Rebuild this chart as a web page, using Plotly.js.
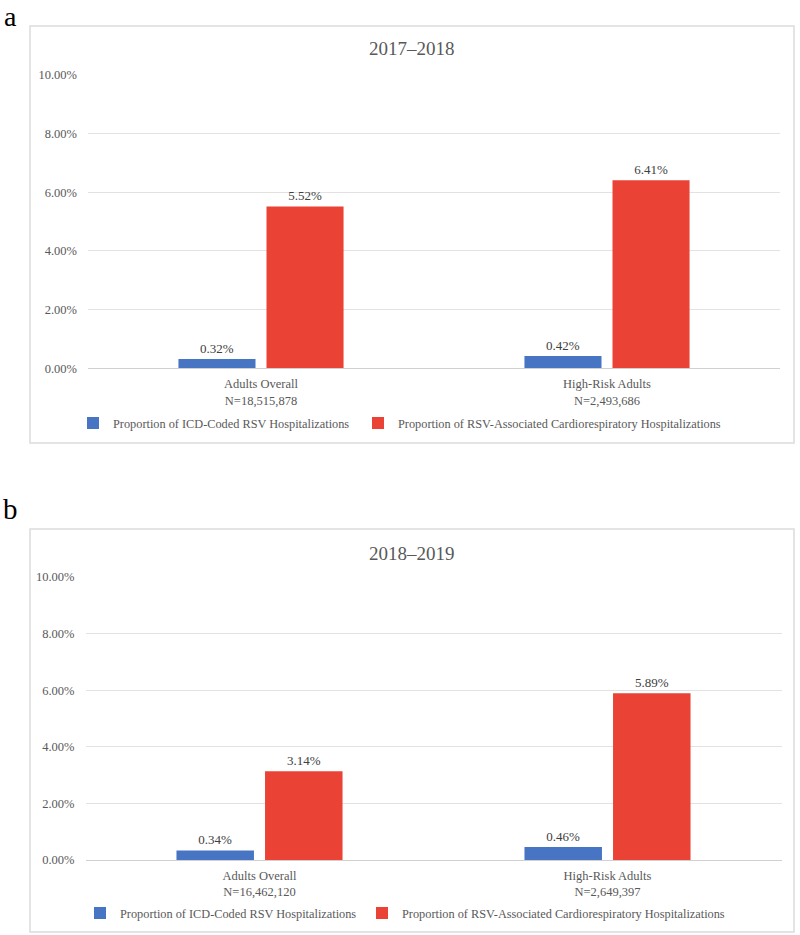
<!DOCTYPE html>
<html>
<head>
<meta charset="utf-8">
<script src="https://cdn.plot.ly/plotly-3.0.1.min.js"></script>
<style>html,body{margin:0;padding:0;background:#fff;}</style>
</head>
<body>
<div id="chart" style="width:800px;height:935px;"></div>
<script>
// ---- data ----
const categoriesA = ["Adults Overall<br>N=18,515,878", "High-Risk Adults<br>N=2,493,686"];
const categoriesB = ["Adults Overall<br>N=16,462,120", "High-Risk Adults<br>N=2,649,397"];
const icdCodedA = [0.32, 0.42];
const cardioA = [5.52, 6.41];
const icdCodedB = [0.34, 0.46];
const cardioB = [3.14, 5.89];
const seriesNames = ["Proportion of ICD-Coded RSV Hospitalizations",
                     "Proportion of RSV-Associated Cardiorespiratory Hospitalizations"];
const panelTitles = ["2017–2018", "2018–2019"];
const panelLetters = ["a", "b"];
const tickVals = [0, 2, 4, 6, 8, 10];

// ---- style ----
const FONT = "Liberation Serif, Times New Roman, serif";
const BLUE = "#4774C3";
const RED = "#EA4335";
const GRAY = "#595959";
const W = 800, H = 935;
const px = x => x / W;
const py = y => 1 - y / H;
const fmt = v => v.toFixed(2) + "%";

function barTrace(x, y, name, color, xa, ya, legend) {
  return {
    type: "bar", x: x, y: y, name: name, xaxis: xa, yaxis: ya, legend: legend,
    marker: {color: color},
    text: y.map(fmt), textposition: "outside", cliponaxis: false,
    textfont: {family: FONT, size: 13, color: "#404040"},
    hoverinfo: "skip"
  };
}

const data = [
  barTrace(categoriesA, icdCodedA, seriesNames[0], BLUE, "x", "y", "legend"),
  barTrace(categoriesA, cardioA, seriesNames[1], RED, "x", "y", "legend2"),
  barTrace(categoriesB, icdCodedB, seriesNames[0], BLUE, "x2", "y2", "legend3"),
  barTrace(categoriesB, cardioB, seriesNames[1], RED, "x2", "y2", "legend4")
];

function xAxis(domain, anchor) {
  return {
    domain: domain, anchor: anchor, automargin: false,
    showline: true, linecolor: "#d0d0d0", linewidth: 1,
    showgrid: false, zeroline: false, ticks: "",
    ticklabelstandoff: 4,
    tickfont: {family: FONT, size: 12.5, color: GRAY},
    fixedrange: true
  };
}
function yAxis(domain, anchor) {
  return {
    domain: domain, anchor: anchor, automargin: false,
    range: [0, 10], tickmode: "array", tickvals: tickVals, ticktext: tickVals.map(fmt),
    showgrid: true, gridcolor: "#e2e2e2", gridwidth: 1,
    zeroline: false, showline: false, ticks: "",
    ticklabelstandoff: 10,
    tickfont: {family: FONT, size: 12.5, color: GRAY},
    fixedrange: true
  };
}

function legendAt(x, y) {
  return {
    orientation: "h", xanchor: "left", yanchor: "middle",
    x: px(x), y: py(y),
    font: {family: FONT, size: 12.3, color: GRAY},
    bgcolor: "rgba(0,0,0,0)", borderwidth: 0
  };
}

const layout = {
  width: W, height: H,
  margin: {l: 0, r: 0, t: 0, b: 0},
  paper_bgcolor: "#ffffff", plot_bgcolor: "#ffffff",
  barmode: "group", bargap: 0.491, bargroupgap: 0.125,
  showlegend: true,
  xaxis: xAxis([px(88), px(780)], "y"),
  yaxis: yAxis([py(368.3), py(75)], "x"),
  xaxis2: xAxis([px(85.5), px(781.5)], "y2"),
  yaxis2: yAxis([py(860), py(577)], "x2"),
  legend: legendAt(73, 423),
  legend2: legendAt(358, 423),
  legend3: legendAt(80, 913),
  legend4: legendAt(362, 913),
  shapes: [
    {type: "rect", xref: "paper", yref: "paper", x0: px(30), x1: px(794), y0: py(443), y1: py(26),
     line: {color: "#dcdcdc", width: 1.5}, fillcolor: "rgba(0,0,0,0)", layer: "below"},
    {type: "rect", xref: "paper", yref: "paper", x0: px(30), x1: px(794), y0: py(932), y1: py(529),
     line: {color: "#dcdcdc", width: 1.5}, fillcolor: "rgba(0,0,0,0)", layer: "below"}
  ],
  annotations: [
    {text: panelTitles[0], xref: "paper", yref: "paper", x: px(412), y: py(48), xanchor: "center", yanchor: "middle",
     showarrow: false, font: {family: FONT, size: 19, color: GRAY}},
    {text: panelTitles[1], xref: "paper", yref: "paper", x: px(412), y: py(553), xanchor: "center", yanchor: "middle",
     showarrow: false, font: {family: FONT, size: 19, color: GRAY}},
    {text: panelLetters[0], xref: "paper", yref: "paper", x: px(3), y: py(0), xanchor: "left", yanchor: "top",
     borderpad: 0, showarrow: false, font: {family: FONT, size: 28, color: "#000000"}},
    {text: panelLetters[1], xref: "paper", yref: "paper", x: px(2), y: py(492), xanchor: "left", yanchor: "top",
     borderpad: 0, showarrow: false, font: {family: FONT, size: 29, color: "#000000"}}
  ]
};

Plotly.newPlot("chart", data, layout, {displayModeBar: false, staticPlot: true});
</script>
</body>
</html>
